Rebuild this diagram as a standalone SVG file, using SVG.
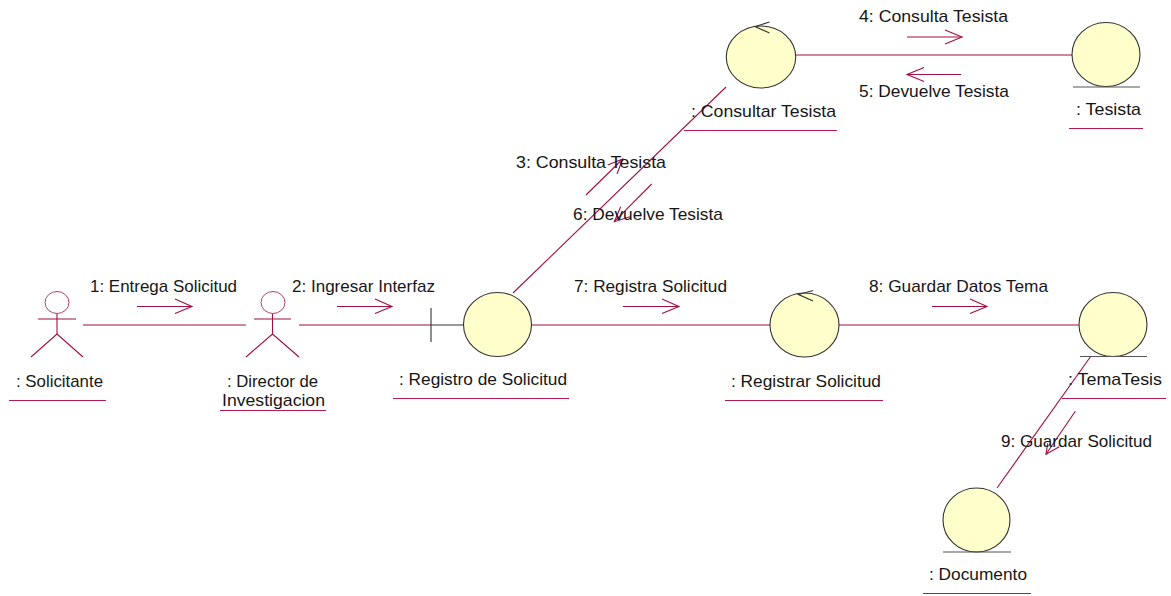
<svg xmlns="http://www.w3.org/2000/svg" width="1171" height="596" viewBox="0 0 1171 596">
<style>
text{font-family:"Liberation Sans",Arial,sans-serif;font-size:16.4px;fill:#161616}
line,polyline{fill:none;stroke:#a01040;stroke-width:1.1}
.u{stroke:#b01a50;stroke-width:1.1}
ellipse.o{fill:#ffffcb;stroke:#333;stroke-width:1.1}
ellipse.h{fill:#fff;stroke:#b8406a;stroke-width:1}
</style>
<g id="connectors">
<line x1="83" y1="325" x2="246" y2="325"/>
<line x1="299" y1="325" x2="431" y2="325"/>
<line x1="532" y1="325" x2="770" y2="325"/>
<line x1="839" y1="325" x2="1079" y2="325"/>
<line x1="796" y1="55" x2="1072" y2="55"/>
<line x1="513" y1="293" x2="726" y2="87"/>
<line x1="1091" y1="356" x2="997" y2="488"/>
</g>
<g id="messages">
<g id="m1"><line x1="137" y1="306.5" x2="192" y2="306.5"/><polyline points="175,299 192,306.5 175,313.5"/><text x="90" y="292" textLength="147" lengthAdjust="spacingAndGlyphs">1: Entrega Solicitud</text></g>
<g id="m2"><line x1="337" y1="306.5" x2="392" y2="306.5"/><polyline points="375,299 392,306.5 375,313.5"/><text x="292" y="292" textLength="143" lengthAdjust="spacingAndGlyphs">2: Ingresar Interfaz</text></g>
<g id="m3"><line x1="586" y1="195" x2="622.7" y2="159"/><polyline points="607.7,165 622.7,159 617,174"/><text x="516" y="168" textLength="150" lengthAdjust="spacingAndGlyphs">3: Consulta Tesista</text></g>
<g id="m4"><line x1="907" y1="37" x2="962" y2="37"/><polyline points="945,30 962,37 945,44"/><text x="859" y="22" textLength="149" lengthAdjust="spacingAndGlyphs">4: Consulta Tesista</text></g>
<g id="m5"><line x1="961" y1="74.5" x2="907" y2="74.5"/><polyline points="924,67.5 907,74.5 924,81.5"/><text x="859" y="97" textLength="150" lengthAdjust="spacingAndGlyphs">5: Devuelve Tesista</text></g>
<g id="m6"><line x1="651.7" y1="184" x2="614.3" y2="221.7"/><polyline points="620.7,206.7 614.3,221.7 630,216.7"/><text x="573" y="220" textLength="150" lengthAdjust="spacingAndGlyphs">6: Devuelve Tesista</text></g>
<g id="m7"><line x1="623" y1="306.5" x2="679" y2="306.5"/><polyline points="662,299 679,306.5 662,313.5"/><text x="574" y="292" textLength="153" lengthAdjust="spacingAndGlyphs">7: Registra Solicitud</text></g>
<g id="m8"><line x1="932" y1="306.5" x2="987" y2="306.5"/><polyline points="970,299 987,306.5 970,313.5"/><text x="869" y="292" textLength="179" lengthAdjust="spacingAndGlyphs">8: Guardar Datos Tema</text></g>
<g id="m9"><line x1="1075.3" y1="411.3" x2="1046" y2="454.3"/><polyline points="1047.7,443.3 1046,454.3 1059.3,446.7"/><text x="1001" y="447" textLength="151" lengthAdjust="spacingAndGlyphs">9: Guardar Solicitud</text></g>
</g>
<g id="solicitante">
<ellipse class="h" cx="57" cy="302.5" rx="12" ry="11"/>
<line x1="38" y1="319" x2="76" y2="319"/><line x1="57" y1="314" x2="57" y2="334"/>
<polyline points="31,357 57,334 83,357"/>
<text x="16" y="387" textLength="87" lengthAdjust="spacingAndGlyphs">: Solicitante</text>
<line class="u" x1="9" y1="400.5" x2="106" y2="400.5"/>
</g>
<g id="director">
<ellipse class="h" cx="273" cy="302.5" rx="12" ry="11"/>
<line x1="254" y1="319" x2="291" y2="319"/><line x1="272.5" y1="314" x2="272.5" y2="334"/>
<polyline points="246,357 272.5,334 299,357"/>
<text x="227" y="387" textLength="91" lengthAdjust="spacingAndGlyphs">: Director de</text>
<text x="222" y="406" textLength="103" lengthAdjust="spacingAndGlyphs">Investigacion</text>
<line class="u" x1="220" y1="410.5" x2="326" y2="410.5"/>
</g>
<g id="registro">
<line x1="431" y1="325" x2="464" y2="325" style="stroke:#333"/>
<line x1="431" y1="308" x2="431" y2="342" style="stroke:#333"/>
<ellipse class="o" cx="497.5" cy="324.5" rx="34" ry="32"/>
<text x="399" y="385" textLength="168" lengthAdjust="spacingAndGlyphs">: Registro de Solicitud</text>
<line class="u" x1="393" y1="398.5" x2="569" y2="398.5"/>
</g>
<g id="consultar">
<ellipse class="o" cx="761" cy="57" rx="34.7" ry="31"/>
<polyline style="stroke:#333" points="769.5,22 755,26.5 769.5,33"/>
<text x="691" y="117" textLength="145" lengthAdjust="spacingAndGlyphs">: Consultar Tesista</text>
<line class="u" x1="684" y1="130.5" x2="837" y2="130.5"/>
</g>
<g id="tesista">
<ellipse class="o" cx="1106" cy="54.5" rx="34" ry="32"/>
<line style="stroke:#555" x1="1073" y1="87" x2="1140" y2="87"/>
<text x="1076" y="115" textLength="65" lengthAdjust="spacingAndGlyphs">: Tesista</text>
<line class="u" x1="1069" y1="128.5" x2="1143" y2="128.5"/>
</g>
<g id="registrar">
<ellipse class="o" cx="804.5" cy="325" rx="34.5" ry="32"/>
<polyline style="stroke:#333" points="813,290.5 798.5,294.5 813,301"/>
<text x="731" y="387" textLength="150" lengthAdjust="spacingAndGlyphs">: Registrar Solicitud</text>
<line class="u" x1="725" y1="400.5" x2="883" y2="400.5"/>
</g>
<g id="tematesis">
<ellipse class="o" cx="1113" cy="324.5" rx="34" ry="32"/>
<line style="stroke:#555" x1="1080" y1="356.5" x2="1147" y2="356.5"/>
<text x="1068" y="385" textLength="94" lengthAdjust="spacingAndGlyphs">: TemaTesis</text>
<line class="u" x1="1062" y1="398.5" x2="1166" y2="398.5"/>
</g>
<g id="documento">
<ellipse class="o" cx="976.5" cy="520" rx="33.5" ry="32"/>
<line style="stroke:#555" x1="943" y1="552" x2="1011" y2="552"/>
<text x="929" y="580" textLength="98" lengthAdjust="spacingAndGlyphs">: Documento</text>
<line class="u" x1="923" y1="593.5" x2="1031" y2="593.5"/>
</g>
</svg>
